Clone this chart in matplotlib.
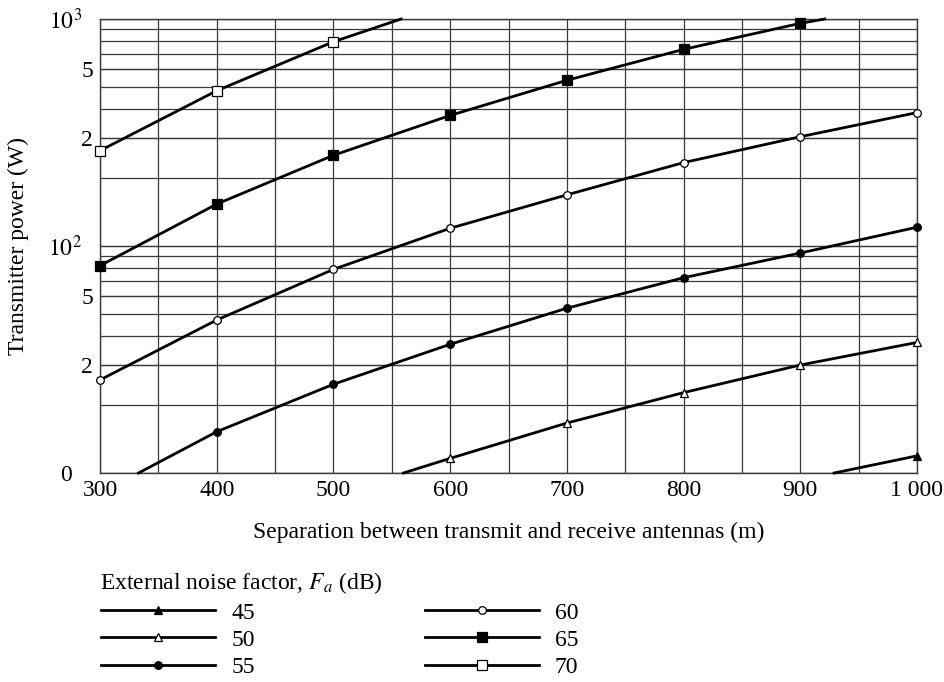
import numpy as np
import matplotlib
matplotlib.use('Agg')
import matplotlib.pyplot as plt
from matplotlib.ticker import FixedLocator, LogLocator, NullFormatter

plt.rcParams['font.family'] = ['Liberation Serif', 'DejaVu Serif']
plt.rcParams['mathtext.fontset'] = 'stix'

# ── data (separation in m, power in W) ─────────────────────────────────────
# each curve runs from where it enters/leaves the frame; markers sit on the 100 m points
fa45_x = [929, 1000]
fa45_y = [10.0, 11.9]

fa50_x = [560, 600, 700, 800, 900, 1000]
fa50_y = [10.0, 11.6, 16.6, 22.6, 29.9, 37.6]

fa55_x = [333, 400, 500, 600, 700, 800, 900, 1000]
fa55_y = [10.0, 15.2, 24.6, 36.9, 53.2, 72.5, 93.1, 121]

fa60_x = [300, 400, 500, 600, 700, 800, 900, 1000]
fa60_y = [25.7, 47.2, 78.9, 119.7, 168, 233, 303, 387]

fa65_x = [300, 400, 500, 600, 700, 800, 900, 921]
fa65_y = [81.9, 153, 251, 376, 537, 735, 957, 1000]

fa70_x = [300, 400, 500, 558]
fa70_y = [263, 483, 794, 1000]

fa_labels = ['45', '50', '55', '60', '65', '70']

x_ticks = [300, 400, 500, 600, 700, 800, 900, 1000]
x_tick_labels = ['300', '400', '500', '600', '700', '800', '900', '1 000']
y_ticks = [10, 30, 60, 100, 300, 600, 1000]
y_tick_labels = ['0', '2', '5', r'$10^2$', '2', '5', r'$10^3$']

series = [
    (fa45_x, fa45_y, '^', 'black', 6.0),
    (fa50_x, fa50_y, '^', 'white', 6.0),
    (fa55_x, fa55_y, 'o', 'black', 5.5),
    (fa60_x, fa60_y, 'o', 'white', 5.5),
    (fa65_x, fa65_y, 's', 'black', 6.5),
    (fa70_x, fa70_y, 's', 'white', 6.5),
]

FS = 17

fig = plt.figure(figsize=(9.45, 6.82), dpi=100)
ax = fig.add_axes([100 / 945, 1 - 473 / 682, 817 / 945, 454 / 682])

handles = []
for (xs, ys, mk, fc, ms), lab in zip(series, fa_labels):
    marks = [i for i, v in enumerate(xs) if v % 100 == 0]
    h, = ax.plot(xs, ys, color='black', lw=2.0, marker=mk, markevery=marks,
                 markersize=ms, markerfacecolor=fc, markeredgecolor='black',
                 markeredgewidth=0.9, label=lab, zorder=3, clip_on=False)
    handles.append(h)

ax.set_yscale('log')
ax.set_xlim(300, 1000)
ax.set_ylim(10, 1000)

ax.xaxis.set_major_locator(FixedLocator(x_ticks))
ax.set_xticklabels(x_tick_labels)
ax.xaxis.set_minor_locator(FixedLocator(list(range(350, 1000, 100))))

ax.yaxis.set_major_locator(FixedLocator(y_ticks))
ax.set_yticklabels(y_tick_labels)
ax.yaxis.set_minor_locator(LogLocator(base=10, subs=range(1, 10)))
ax.yaxis.set_minor_formatter(NullFormatter())
ax.yaxis.remove_overlapping_locs = False

ax.grid(True, which='both', color='#3a3a3a', lw=0.9)
ax.set_axisbelow(True)
ax.tick_params(which='both', length=0, labelsize=FS, colors='black')
ax.tick_params(axis='y', pad=5)
ax.tick_params(axis='x', pad=5)
for s in ax.spines.values():
    s.set_color('#3a3a3a')
    s.set_linewidth(1.0)

# the original sets the "0" and the powers of ten further left than the 2s and 5s
y_pads = [20, 5, 5, 13, 5, 5, 13]
for tk, p in zip(ax.yaxis.get_major_ticks(len(y_ticks)), y_pads):
    tk.set_pad(p)

ax.set_xlabel('Separation between transmit and receive antennas (m)', fontsize=FS)
ax.xaxis.label.set_va('center')
ax.xaxis.set_label_coords(0.5, (473 - 532) / 454)
ax.set_ylabel('Transmitter power (W)', fontsize=FS)
ax.yaxis.label.set_va('center')
ax.yaxis.set_label_coords((18 - 100) / 817, 0.5)

fig.text(100 / 945, 1 - 583 / 682, 'External noise factor, $F_a$ (dB)',
         fontsize=FS, ha='left', va='center')

leg = fig.legend(handles=handles, loc='upper left', bbox_to_anchor=(101 / 945, 1 - 602 / 682),
                 ncol=2, frameon=False, fontsize=FS, handlelength=4.83,
                 handletextpad=0.68, columnspacing=7.2, labelspacing=0.24,
                 borderpad=0, borderaxespad=0)

fig.savefig('out.png', dpi=100)
